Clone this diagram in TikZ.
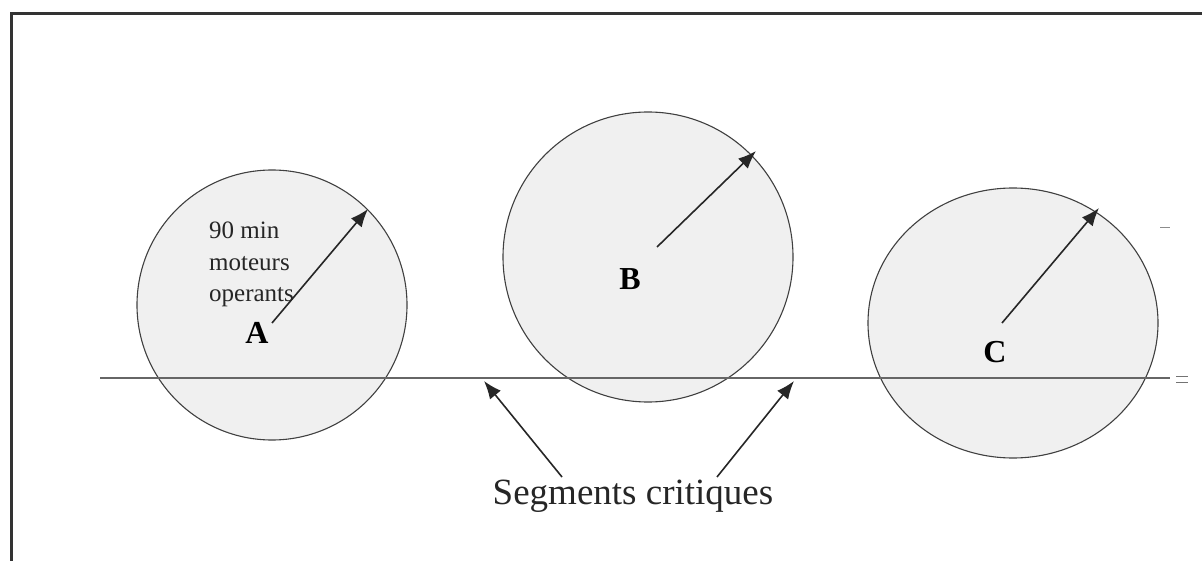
\documentclass[tikz,border=0pt]{standalone}
\usepackage{fontspec}
\setmainfont{Liberation Serif}
\usetikzlibrary{arrows.meta,positioning}

\tikzset{
  zone/.style={draw=black!75, line width=1.1pt, fill=black!6},
  radius arrow/.style={line width=1.6pt, black!85, -{Latex[length=18pt,width=14pt]}},
  lettre/.style={font=\bfseries\fontsize{32}{32}\selectfont, inner sep=0pt}
}

\begin{document}
\begin{tikzpicture}[x=1pt, y=-1pt]
  \useasboundingbox (0,0) rectangle (1202,561);

  % Frame
  \draw[line width=3pt, black!80] (11,561) -- (11,14) -- (1202,14);

  % Zones
  \draw[zone] (272,305) circle[radius=135pt];
  \draw[zone] (648,257) circle[radius=145pt];
  \draw[zone] (1013,323) ellipse[x radius=145pt, y radius=135pt];

  % Route
  \coordinate (L0) at (100,378);
  \coordinate (L1) at (1170,378);
  \draw[line width=1.1pt, black!60] (L0) -- (L1);
  \draw[line width=1pt, black!55] (1176,376) -- (1188,376) (1176,382) -- (1188,382);
  \draw[line width=1pt, black!45] (1160,228) -- (1170,228);

  % Centres and radius ends
  \node[lettre] (A) at (257,333) {A};
  \node[lettre] (B) at (630,279) {B};
  \node[lettre] (C) at (995,352) {C};
  \coordinate (a0) at (272,323);
  \coordinate (a1) at (368,209);
  \coordinate (b0) at (657,247);
  \coordinate (b1) at (756,151);
  \coordinate (c0) at (1002,323);
  \coordinate (c1) at (1099,208);
  \draw[radius arrow] (a0) -- (a1);
  \draw[radius arrow] (b0) -- (b1);
  \draw[radius arrow] (c0) -- (c1);

  \node[anchor=north west, align=left, inner sep=0pt,
        font=\fontsize{25}{31.5}\selectfont, black!85] (note) at (209,222)
    {90 min\\moteurs\\operants};

  % Critical segments
  \node[font=\fontsize{37}{37}\selectfont, black!85, inner sep=2pt] (seg) at (633,496)
    {Segments critiques};
  \coordinate (s1) at (484,381);
  \coordinate (s2) at (794,381);
  \draw[radius arrow] (562,477) -- (s1);
  \draw[radius arrow] (717,477) -- (s2);
\end{tikzpicture}
\end{document}
